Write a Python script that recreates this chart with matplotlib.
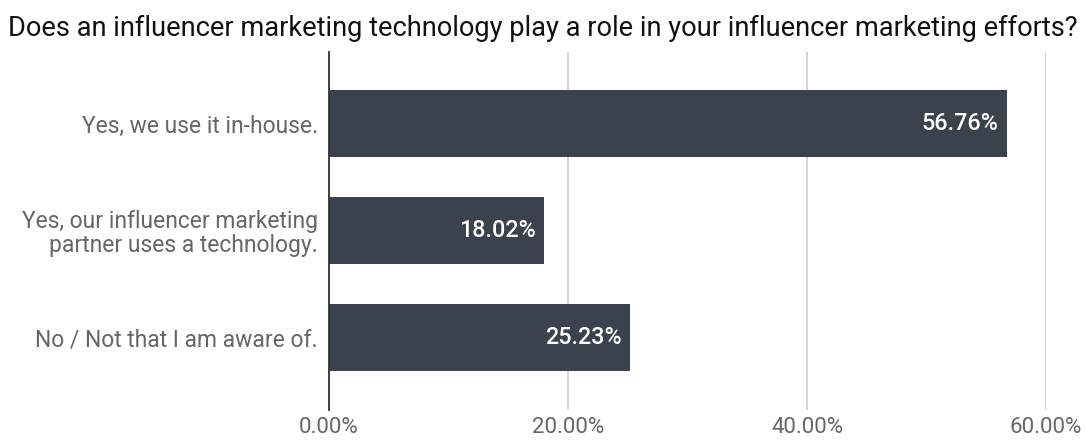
import matplotlib.pyplot as plt

plt.rcParams['font.family'] = ['Roboto', 'DejaVu Sans']

categories = [
    "Yes, we use it in-house.",
    "Yes, our influencer marketing\npartner uses a technology.",
    "No / Not that I am aware of.",
]
values = [56.76, 18.02, 25.23]
value_labels = ["56.76%", "18.02%", "25.23%"]
ticks = [0, 20, 40, 60]
tick_labels = ["0.00%", "20.00%", "40.00%", "60.00%"]

BAR = "#3c414e"

fig = plt.figure(figsize=(10.86, 4.43), dpi=100)
ax = fig.add_axes([329 / 1086, 1 - 410 / 443, (1046 - 329) / 1086, (410 - 52) / 443])

ypos = list(range(len(categories)))
ax.barh(ypos, values, height=0.63, color=BAR, zorder=3)
for y, v, lab in zip(ypos, values, value_labels):
    ax.text(v - 0.75, y, lab, ha="right", va="center", color="white",
            fontsize=16.8, fontweight="medium", zorder=4)

ax.set_xlim(0, 60)
ax.set_ylim(2.68, -0.67)
ax.set_xticks(ticks)
ax.set_xticklabels(tick_labels, fontsize=16, color="#666666")
ax.set_yticks(ypos)
ax.set_yticklabels(categories, fontsize=16.5, color="#666666", linespacing=1.05)
ax.tick_params(axis="y", length=0, pad=8)
ax.tick_params(axis="x", length=0, pad=5)
ax.xaxis.grid(True, color="#cccccc", linewidth=1.2, zorder=0)
for s in ["top", "right", "bottom"]:
    ax.spines[s].set_visible(False)
ax.spines["left"].set_color("#333333")
ax.spines["left"].set_linewidth(1.3)
ax.spines["left"].set_zorder(5)

fig.text(8 / 1086, 1 - 28 / 443, "Does an influencer marketing technology play a role in your influencer marketing efforts?",
         fontsize=19.6, color="#111111", va="center", ha="left")

fig.savefig("out.png", dpi=100)
